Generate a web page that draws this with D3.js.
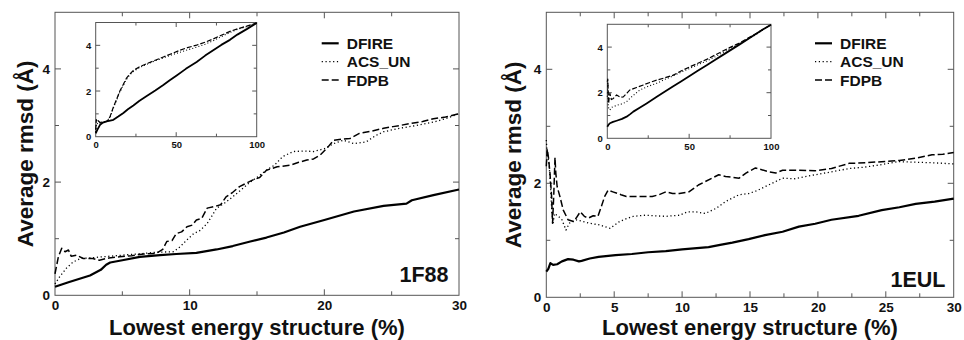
<!DOCTYPE html>
<html><head><meta charset="utf-8">
<script src="https://cdn.jsdelivr.net/npm/d3@7"></script>
<style>html,body{margin:0;padding:0;background:#fff}svg{display:block}</style>
</head><body><svg id="chart" width="964" height="340"></svg>
<script>
// ---------- data ----------
const seriesNames = ["DFIRE", "ACS_UN", "FDPB"];
const panelLabels = ["1F88", "1EUL"];
const xTitle = "Lowest energy structure (%)";
const yTitle = "Average rmsd (Å)";
const mainYTicks = [0, 2, 4];
const mainYMinor = [1, 3, 5];
const leftXTicks = [0, 10, 20, 30];
const leftXMinor = [5, 15, 25];
const rightXTicks = [0, 5, 10, 15, 20, 25, 30];
const rightXMinor = [2.5, 7.5, 12.5, 17.5, 22.5, 27.5];
const insetXTicks = [0, 50, 100];
const insetXMinor = [25, 75];
const insetYTicks = [0, 2, 4];
const insetYMinor = [1, 3];

const f88_dfire = [[0,0.15],[1,0.23],[2.6,0.35],[3.4,0.45],[3.8,0.54],[4.1,0.58],[5,0.62],[6.3,0.68],[7.8,0.71],[9,0.73],[10.5,0.75],[12,0.81],[13.2,0.87],[14.5,0.95],[15.7,1.02],[17,1.11],[18.2,1.21],[20,1.33],[22.2,1.48],[24.4,1.58],[26.1,1.62],[26.5,1.68],[28.1,1.77],[30,1.87]];
const f88_acs = [[0,0.2],[0.35,0.33],[0.85,0.48],[1.35,0.59],[1.9,0.65],[2.6,0.66],[3.5,0.68],[4.6,0.7],[5.5,0.72],[6.6,0.74],[7.5,0.76],[8.8,0.77],[9.3,0.86],[9.8,0.98],[10.3,1.09],[10.8,1.15],[11.3,1.27],[11.7,1.42],[12,1.54],[12.6,1.63],[13.2,1.74],[13.8,1.86],[14.5,2.0],[15.1,2.1],[15.7,2.21],[16.3,2.3],[16.9,2.45],[17.7,2.54],[18.5,2.55],[19.2,2.54],[20,2.59],[20.7,2.68],[21.4,2.74],[22.2,2.68],[23.1,2.71],[23.8,2.82],[24.4,2.89],[25.6,2.95],[26.8,3.0],[28.1,3.06],[29,3.12],[30,3.21]];
const f88_fdpb = [[0,0.38],[0.25,0.68],[0.5,0.83],[0.75,0.77],[1.0,0.8],[1.2,0.69],[1.6,0.71],[2.1,0.65],[2.8,0.65],[3.3,0.62],[4.0,0.66],[4.8,0.68],[5.7,0.7],[6.6,0.73],[7.5,0.74],[8.0,0.81],[8.3,0.95],[8.7,0.97],[9.0,1.09],[9.4,1.12],[9.8,1.21],[10.2,1.24],[10.5,1.33],[10.9,1.36],[11.3,1.54],[12,1.58],[12.3,1.6],[12.7,1.74],[13.2,1.82],[13.7,1.92],[14.2,1.98],[14.7,2.04],[15.2,2.08],[15.7,2.21],[16.5,2.27],[17.5,2.3],[18.1,2.35],[18.7,2.39],[19.2,2.41],[19.7,2.48],[20.2,2.6],[20.7,2.74],[21.3,2.76],[21.9,2.77],[22.6,2.86],[23.5,2.9],[24.4,2.95],[25.1,2.98],[25.6,3.0],[26.5,3.04],[27.3,3.07],[28.1,3.12],[29,3.15],[30,3.21]];

const f88in_dfire = [[0,0.15],[1,0.3],[2.7,0.52],[4.5,0.62],[6.8,0.67],[9,0.7],[11,0.74],[14,0.88],[17.2,1.04],[20,1.2],[23.4,1.37],[27,1.56],[31.7,1.78],[37,2.02],[42,2.26],[46,2.47],[50.3,2.68],[56,2.97],[62.7,3.27],[68,3.55],[73,3.79],[78,4.02],[83.4,4.24],[88,4.47],[93.8,4.71],[100,4.98]];
const f88in_acs = [[0,0.2],[0.6,0.6],[1.5,0.55],[2.7,0.6],[5,0.64],[6.8,0.67],[9,0.85],[11,1.25],[13,1.6],[15,1.95],[17.2,2.25],[19,2.5],[21.3,2.72],[23.4,2.85],[27,3.02],[31.7,3.17],[37,3.33],[42,3.45],[47,3.58],[52.4,3.7],[57,3.8],[62.7,3.92],[68,4.05],[73,4.2],[78,4.38],[83.4,4.56],[88,4.7],[93.8,4.82],[100,4.98]];
const f88in_fdpb = [[0,0.3],[0.4,0.75],[0.8,0.65],[1.5,0.7],[2.7,0.62],[5,0.66],[6.8,0.67],[8,0.75],[9,0.9],[11,1.3],[13,1.64],[15,2.0],[17.2,2.3],[19,2.55],[21.3,2.75],[23.4,2.9],[27,3.05],[31.7,3.2],[37,3.35],[42,3.49],[47,3.63],[52.4,3.79],[57,3.9],[62.7,4.01],[68,4.14],[73,4.28],[78,4.44],[83.4,4.61],[88,4.72],[93.8,4.84],[100,4.98]];

const eul_dfire = [[0,0.45],[0.15,0.5],[0.3,0.6],[0.5,0.57],[0.8,0.58],[1.15,0.63],[1.6,0.67],[2.0,0.66],[2.4,0.63],[2.6,0.64],[3.2,0.68],[3.85,0.71],[5.1,0.74],[6.3,0.76],[7.5,0.79],[8.8,0.81],[10,0.84],[11.95,0.88],[12.8,0.92],[13.7,0.96],[14.9,1.02],[16.1,1.09],[17.4,1.15],[18.6,1.24],[19.8,1.29],[21,1.36],[23,1.43],[24.7,1.53],[26,1.58],[27.2,1.64],[28.6,1.68],[30,1.73]];
const eul_acs = [[0,2.76],[0.07,2.5],[0.2,2.35],[0.3,2.0],[0.35,1.77],[0.4,1.53],[0.5,1.3],[0.6,1.47],[0.9,1.42],[1.15,1.36],[1.45,1.18],[1.7,1.3],[2.2,1.36],[2.7,1.33],[3.2,1.3],[3.9,1.27],[4.3,1.24],[4.7,1.21],[5.4,1.33],[5.9,1.38],[6.4,1.42],[7.3,1.44],[8.0,1.43],[8.8,1.42],[9.8,1.44],[10.4,1.5],[11,1.5],[11.7,1.47],[12.5,1.56],[13.2,1.68],[14.2,1.8],[14.9,1.82],[15.5,1.87],[16.1,1.94],[16.8,2.02],[17.4,2.09],[18.3,2.08],[19.8,2.15],[21,2.2],[22.3,2.26],[23.3,2.28],[24.5,2.32],[25.9,2.38],[27.2,2.37],[28.5,2.36],[30,2.34]];
const eul_fdpb = [[0,2.3],[0.07,2.6],[0.15,2.47],[0.27,2.18],[0.39,1.77],[0.46,1.3],[0.55,1.8],[0.64,2.45],[0.7,2.18],[0.8,1.94],[1.0,1.77],[1.25,1.53],[1.6,1.36],[2.0,1.33],[2.2,1.39],[2.5,1.5],[2.8,1.42],[3.1,1.39],[3.45,1.43],[3.8,1.42],[4.05,1.59],[4.3,1.77],[4.55,1.88],[4.9,1.85],[5.5,1.8],[5.9,1.77],[6.9,1.77],[7.8,1.77],[8.3,1.8],[8.8,1.85],[9.3,1.82],[9.8,1.82],[10.5,1.85],[11.2,1.97],[11.7,2.03],[12.2,2.09],[12.7,2.15],[13.2,2.12],[14.2,2.09],[14.7,2.18],[15.4,2.27],[16.4,2.2],[16.9,2.18],[17.4,2.23],[18.6,2.23],[19.8,2.22],[21,2.26],[22.3,2.35],[23.5,2.36],[24.7,2.38],[26,2.4],[27.2,2.44],[28.4,2.5],[29.2,2.51],[30,2.54]];

const eulin_dfire = [[0,0.51],[0.8,0.6],[1.6,0.66],[3.5,0.72],[5.7,0.77],[9,0.85],[11.8,0.95],[14,1.06],[15.9,1.17],[20,1.35],[24,1.53],[30,1.81],[35,2.04],[40.3,2.28],[45,2.49],[50.5,2.74],[55,2.95],[60.7,3.2],[65,3.4],[70.9,3.67],[76,3.9],[81.1,4.13],[86,4.36],[91.2,4.6],[95,4.77],[100,4.98]];
const eulin_acs = [[0,1.82],[0.3,2.5],[0.6,1.39],[1.0,1.3],[1.6,1.24],[2.5,1.35],[3.7,1.39],[6,1.45],[9.8,1.53],[12,1.62],[13.8,1.75],[17,1.95],[19.9,2.12],[25,2.28],[30.1,2.41],[35,2.58],[40.3,2.74],[45,2.9],[50.5,3.07],[55,3.22],[60.7,3.39],[66,3.58],[70.9,3.77],[76,3.97],[81.1,4.16],[86,4.36],[91.2,4.57],[95,4.75],[100,4.98]];
const eulin_fdpb = [[0,2.48],[0.3,2.6],[0.8,1.53],[1.2,1.8],[1.6,1.97],[2.5,1.7],[3.7,1.75],[5.7,1.9],[8,1.8],[9.8,1.82],[12,1.98],[13.8,2.12],[16,2.18],[17.9,2.23],[22,2.34],[26,2.45],[30.1,2.55],[35,2.65],[40.3,2.77],[45,2.95],[50.5,3.14],[55,3.28],[60.7,3.46],[66,3.66],[70.9,3.84],[76,4.02],[81.1,4.19],[86,4.4],[91.2,4.6],[95,4.77],[100,4.98]];

// ---------- drawing ----------
const svg = d3.select("#chart");
svg.append("rect").attr("width", 964).attr("height", 340).attr("fill", "#fff");
const FONT = "'Liberation Sans', Arial, Helvetica, sans-serif";
const frameColor = "#555";

const mainStyles = [
  {w: 2.2, dash: null},
  {w: 1.3, dash: "1.2,2.6"},
  {w: 1.5, dash: "7,3"}
];
const insetStyles = [
  {w: 1.8, dash: null},
  {w: 1.1, dash: "1,2.2"},
  {w: 1.2, dash: "5,2"}
];

function drawAxes(g, x, y, o) {
  const [x0, x1] = x.range(), [y0, y1] = y.range();
  g.append("rect").attr("x", x0).attr("y", y1).attr("width", x1 - x0).attr("height", y0 - y1)
    .attr("fill", "#fff").attr("stroke", "none");
  function tickSet(vals, len) {
    vals.forEach(v => {
      const px = x(v);
      g.append("line").attr("x1", px).attr("x2", px).attr("y1", y0).attr("y2", y0 - len).attr("stroke", frameColor);
      g.append("line").attr("x1", px).attr("x2", px).attr("y1", y1).attr("y2", y1 + len).attr("stroke", frameColor);
    });
  }
  function tickSetY(vals, len) {
    vals.forEach(v => {
      const py = y(v);
      g.append("line").attr("x1", x0).attr("x2", x0 + len).attr("y1", py).attr("y2", py).attr("stroke", frameColor);
      g.append("line").attr("x1", x1).attr("x2", x1 - len).attr("y1", py).attr("y2", py).attr("stroke", frameColor);
    });
  }
  tickSet(o.xTicks.filter(v => v !== x.domain()[0] && v !== x.domain()[1]), o.maj);
  tickSet(o.xMinor, o.min);
  tickSetY(o.yTicks.filter(v => v !== y.domain()[0]), o.maj);
  tickSetY(o.yMinor.filter(v => v !== y.domain()[1]), o.min);
  g.append("rect").attr("x", x0).attr("y", y1).attr("width", x1 - x0).attr("height", y0 - y1)
    .attr("fill", "none").attr("stroke", frameColor).attr("stroke-width", 1);
  // labels
  const xl = d3.axisBottom(x).tickValues(o.xTicks).tickSize(0).tickPadding(o.xPad).tickFormat(d3.format("d"));
  const ga = g.append("g").attr("transform", `translate(0,${y0})`).call(xl);
  ga.select(".domain").remove();
  ga.selectAll("text").attr("font-family", FONT).attr("font-weight", "bold").attr("font-size", o.fs).attr("fill", "#111");
  const yl = d3.axisLeft(y).tickValues(o.yTicks).tickSize(0).tickPadding(o.yPad).tickFormat(d3.format("d"));
  const gb = g.append("g").attr("transform", `translate(${x0},0)`).call(yl);
  gb.select(".domain").remove();
  gb.selectAll("text").attr("font-family", FONT).attr("font-weight", "bold").attr("font-size", o.fs).attr("fill", "#111");
}

function drawSeries(g, x, y, data, styles) {
  const line = d3.line().x(d => x(d[0])).y(d => y(d[1]));
  data.forEach((d, i) => {
    g.append("path").attr("d", line(d)).attr("fill", "none").attr("stroke", "#000")
      .attr("stroke-width", styles[i].w).attr("stroke-dasharray", styles[i].dash)
      .attr("stroke-linejoin", "round");
  });
}

const panels = [
  {
    xr: [55, 459], yr: [295.3, 12.3], xDom: [0, 30], xTicks: leftXTicks, xMinor: leftXMinor,
    inset: {xr: [95.7, 256.7], yr: [136.7, 22.5]},
    data: [f88_dfire, f88_acs, f88_fdpb], insetData: [f88in_dfire, f88in_acs, f88in_fdpb],
    legX: 321.7, label: panelLabels[0], labelX: 448.5, labelY: 282, yTitleX: 33
  },
  {
    xr: [546.3, 953.7], yr: [297.3, 12.3], xDom: [0, 30], xTicks: rightXTicks, xMinor: rightXMinor,
    inset: {xr: [607.3, 771], yr: [138.3, 24.3]},
    data: [eul_dfire, eul_acs, eul_fdpb], insetData: [eulin_dfire, eulin_acs, eulin_fdpb],
    legX: 815, label: panelLabels[1], labelX: 945.5, labelY: 286.5, yTitleX: 521
  }
];

panels.forEach(p => {
  const g = svg.append("g");
  const x = d3.scaleLinear().domain(p.xDom).range(p.xr);
  const y = d3.scaleLinear().domain([0, 5]).range(p.yr);
  drawAxes(g, x, y, {xTicks: p.xTicks, xMinor: p.xMinor, yTicks: mainYTicks, yMinor: mainYMinor,
    maj: 6, min: 4, xPad: 5.5, yPad: 5, fs: 13.5});
  drawSeries(g, x, y, p.data, mainStyles);

  // axis titles
  g.append("text").attr("x", (p.xr[0] + p.xr[1]) / 2).attr("y", 334.5)
    .attr("text-anchor", "middle").attr("font-family", FONT).attr("font-weight", "bold")
    .attr("font-size", 22).attr("fill", "#111").text(xTitle);
  g.append("text").attr("transform", `translate(${p.yTitleX},${(p.yr[0] + p.yr[1]) / 2}) rotate(-90)`)
    .attr("text-anchor", "middle").attr("font-family", FONT).attr("font-weight", "bold")
    .attr("font-size", 22.5).attr("fill", "#111").text(yTitle);

  // panel label
  g.append("text").attr("x", p.labelX).attr("y", p.labelY).attr("text-anchor", "end")
    .attr("font-family", FONT).attr("font-weight", "bold").attr("font-size", 21.5).attr("fill", "#111").text(p.label);

  // legend
  const rows = [43.3, 61.7, 80];
  seriesNames.forEach((name, i) => {
    g.append("line").attr("x1", p.legX).attr("x2", p.legX + 17).attr("y1", rows[i]).attr("y2", rows[i])
      .attr("stroke", "#000").attr("stroke-width", mainStyles[i].w).attr("stroke-dasharray", mainStyles[i].dash);
    g.append("text").attr("x", p.legX + 25).attr("y", rows[i] + 5.5).attr("font-family", FONT)
      .attr("font-weight", "bold").attr("font-size", 15.5).attr("fill", "#111").text(name);
  });

  // inset
  const gi = svg.append("g");
  const xi = d3.scaleLinear().domain([0, 100]).range(p.inset.xr);
  const yi = d3.scaleLinear().domain([0, 5]).range(p.inset.yr);
  drawAxes(gi, xi, yi, {xTicks: insetXTicks, xMinor: insetXMinor, yTicks: insetYTicks, yMinor: insetYMinor,
    maj: 4.5, min: 3, xPad: 4.5, yPad: 4.5, fs: 9.5});
  drawSeries(gi, xi, yi, p.insetData, insetStyles);
});
</script></body></html>
